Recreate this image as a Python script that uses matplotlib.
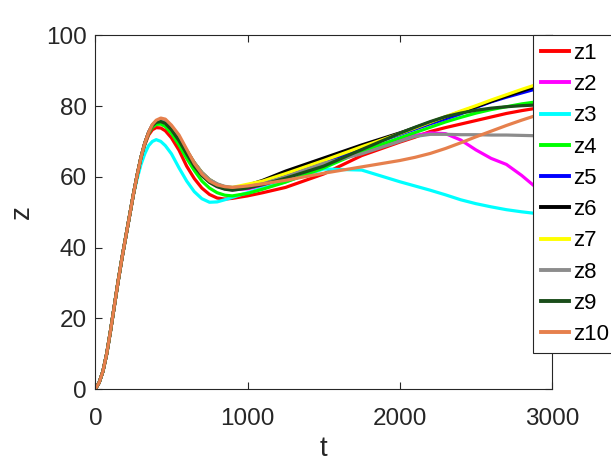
import numpy as np
import matplotlib
matplotlib.use('Agg')
import matplotlib.pyplot as plt

plt.rcParams['font.family'] = ['Liberation Sans', 'DejaVu Sans']

# shared rising part (all runs coincide here)
t_rise = [0, 25, 50, 75, 100, 125, 150, 175, 200, 225, 250]
z_rise = [0, 1.8, 5.0, 10.0, 16.5, 23.5, 30.5, 37.0, 43.0, 49.0, 55.0]

t_rest = [275, 300, 325, 350, 375, 400, 430, 460, 500, 550, 600, 650, 700, 750,
          800, 850, 900, 1000, 1100, 1250, 1500, 1750, 2000, 2100, 2200, 2300,
          2400, 2500, 2600, 2700, 2800, 2900, 3000]

z1 = [60.5, 65.3, 69.0, 71.8, 73.3, 73.9, 73.8, 73.0, 71.0, 67.5, 63.0, 59.5, 56.8, 55.0,
      54.0, 53.7, 53.9, 54.6, 55.5, 57.0, 60.8, 66.0, 69.8, 71.2, 72.8, 73.9,
      74.9, 75.9, 76.9, 77.9, 78.7, 79.4, 80.0]
z2 = [60.5, 65.5, 69.5, 72.5, 74.6, 75.5, 75.8, 75.3, 73.6, 70.6, 67.0, 63.5, 60.6, 58.6,
      57.3, 56.6, 56.3, 56.6, 57.5, 59.5, 63.3, 67.3, 70.6, 71.7, 72.4, 72.2,
      70.4, 67.6, 65.2, 63.5, 60.4, 56.8, 54.5]
z3 = [59.5, 63.5, 66.5, 68.8, 70.0, 70.5, 70.0, 68.8, 66.5, 62.5, 58.8, 55.8, 53.8, 52.8,
      52.9, 53.5, 54.2, 55.5, 56.8, 58.6, 62.2, 61.9, 58.6, 57.4, 56.2, 54.9,
      53.5, 52.4, 51.5, 50.7, 50.1, 49.6, 49.3]
z4 = [60.5, 65.5, 69.3, 72.2, 74.0, 74.8, 74.9, 74.2, 72.3, 69.0, 65.2, 61.8, 58.8, 56.8,
      55.5, 54.8, 54.6, 55.3, 56.5, 58.5, 62.5, 67.2, 71.0, 72.5, 74.0, 75.5,
      76.8, 78.0, 79.0, 79.8, 80.6, 81.2, 81.5]
z5 = [60.5, 65.5, 69.5, 72.5, 74.6, 75.6, 75.9, 75.5, 73.8, 70.8, 67.2, 63.8, 61.0, 59.0,
      57.7, 57.0, 56.7, 57.2, 58.4, 60.3, 64.0, 68.3, 72.0, 73.5, 75.0, 76.4,
      77.8, 79.6, 81.2, 82.5, 83.7, 84.9, 86.0]
z6 = [60.5, 65.5, 69.5, 72.5, 74.6, 75.6, 75.9, 75.5, 73.9, 71.0, 67.4, 64.0, 61.2, 59.2,
      57.9, 57.1, 56.8, 57.6, 59.0, 61.6, 65.3, 69.0, 72.4, 73.9, 75.4, 76.9,
      78.4, 79.8, 81.3, 82.8, 84.2, 85.6, 87.0]
z7 = [60.5, 65.5, 69.5, 72.5, 74.6, 75.6, 75.9, 75.5, 73.9, 71.0, 67.4, 64.0, 61.2, 59.2,
      57.9, 57.2, 57.0, 57.9, 58.8, 60.9, 64.6, 68.5, 72.2, 73.8, 75.4, 77.0,
      78.6, 80.1, 81.7, 83.2, 84.7, 86.1, 87.5]
z8 = [60.5, 65.5, 69.5, 72.5, 74.6, 75.7, 76.0, 75.7, 74.0, 71.2, 67.5, 64.0, 61.2, 59.2,
      58.0, 57.3, 57.0, 57.2, 58.0, 60.0, 63.8, 66.5, 70.0, 71.4, 72.0, 72.0,
      71.9, 71.9, 71.8, 71.8, 71.7, 71.6, 71.5]
z9 = [60.5, 65.5, 69.5, 72.5, 74.5, 75.4, 75.6, 75.1, 73.3, 70.2, 66.5, 63.0, 60.3, 58.4,
      57.2, 56.5, 56.2, 56.8, 57.8, 59.6, 63.0, 67.7, 72.3, 74.0, 75.6, 77.0,
      78.0, 78.8, 79.4, 79.8, 80.1, 80.3, 80.5]
z10 = [60.5, 65.5, 69.5, 72.5, 74.8, 76.0, 76.6, 76.3, 74.6, 71.8, 67.8, 63.8, 60.8, 58.8,
       57.7, 57.2, 57.0, 57.4, 58.0, 59.0, 61.0, 62.8, 64.6, 65.5, 66.6, 68.0,
       69.6, 71.3, 72.9, 74.5, 76.0, 77.4, 78.6]

series = [z1, z2, z3, z4, z5, z6, z7, z8, z9, z10]
names = ['z1', 'z2', 'z3', 'z4', 'z5', 'z6', 'z7', 'z8', 'z9', 'z10']
colors = ['#ff0000', '#ff00ff', '#00ffff', '#00ff00', '#0000ff',
          '#000000', '#ffff00', '#8c8c8c', '#1a4d1a', '#e6804d']

fig = plt.figure(figsize=(6.11, 4.70), dpi=100)
ax = fig.add_axes([0.156, 0.1723, 0.7475, 0.7526])

t_all = np.array(t_rise + t_rest)
for z, name, c in zip(series, names, colors):
    ax.plot(t_all, np.array(z_rise + z), color=c, lw=2.3, label=name)

ax.set_xlim(0, 3000)
ax.set_ylim(0, 100)
ax.set_xticks([0, 1000, 2000, 3000])
ax.set_yticks([0, 20, 40, 60, 80, 100])
ax.tick_params(direction='in', length=5, width=0.8, top=True, right=True,
               labelsize=17.5, colors='#262626', pad=6)
ax.tick_params(axis='x', pad=14)
for s in ax.spines.values():
    s.set_color('#262626')
    s.set_linewidth(0.8)
ax.set_xlabel('t', fontsize=20, color='#262626', labelpad=4)
ax.set_ylabel('z', fontsize=20, color='#262626', labelpad=8)

leg = ax.legend(loc='upper left', bbox_to_anchor=(0.872, 0.925),
                bbox_transform=fig.transFigure, fontsize=16, frameon=True,
                fancybox=False, framealpha=1, edgecolor='#262626',
                borderpad=0.35, labelspacing=0.46, handlelength=1.3,
                handletextpad=0.15, borderaxespad=0)
leg.get_frame().set_linewidth(0.8)
for line in leg.get_lines():
    line.set_linewidth(2.8)

fig.savefig('out.png', dpi=100)
